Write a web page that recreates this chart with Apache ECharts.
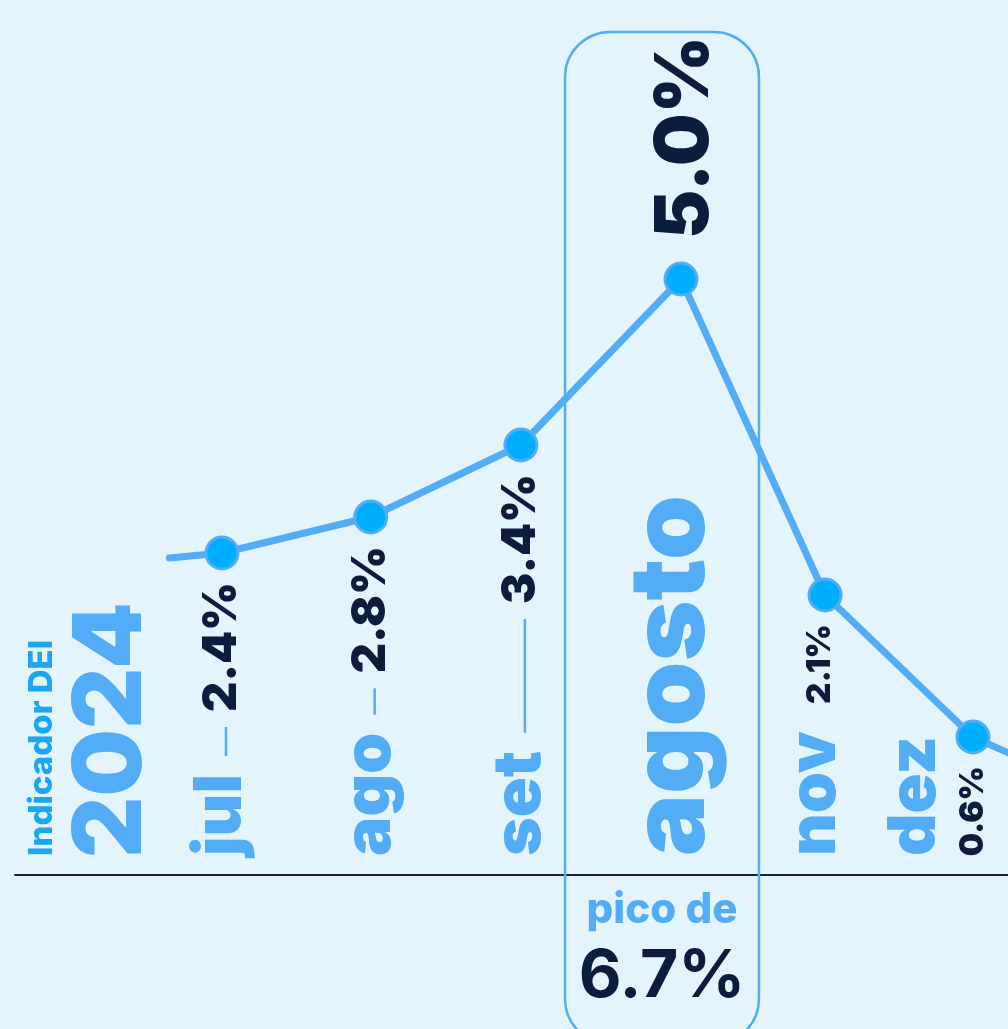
<!DOCTYPE html>
<html>
<head>
<meta charset="utf-8">
<script src="https://cdn.jsdelivr.net/npm/echarts@6/dist/echarts.min.js"></script>
<style>
  html, body { margin: 0; padding: 0; background: #E4F4FD; }
  #chart { width: 1008px; height: 1029px; }
</style>
</head>
<body>
<div id="chart"></div>
<script>
// ---- data ----
const months = ['jul', 'ago', 'set', 'agosto', 'nov', 'dez'];
const valueLabels = ['2.4%', '2.8%', '3.4%', '5.0%', '2.1%', '0.6%'];
const xPositions = [0, 0.99, 1.99, 3.056, 4.015, 5];
const plotHeights = [3.22, 3.58, 4.30, 5.96, 2.80, 1.38];
const lineStart = [-0.35, 3.17];
const lineEnd = [5.4, 1.11];
const peakIndex = 3;
const highlightRange = [2.284, 3.575];
const peakNote = 'pico de';
const peakNoteValue = '6.7%';
const titleSmall = 'Indicador DEI';
const titleYear = '2024';

// ---- styles ----
const BLUE = '#52ACF6';
const BRIGHT = '#1AA6F0';
const NAVY = '#0B1D3D';
const POINT = '#00AEFF';
const FONT = 'Inter, "Noto Sans", sans-serif';
const HEAVY = 900;

const styleFor = function (i) {
  if (i === peakIndex) return { monthSize: 104, valueSize: 74, above: true, monthDx: -8, valueDx: 5 };
  if (i >= 4) return { monthSize: 66, valueSize: 33, above: false, monthDx: i === 5 ? -58 : -10, valueDx: i === 4 ? -5 : 0 };
  return { monthSize: 66, valueSize: 47, above: false, monthDx: -1, valueDx: 0 };
};

const measureCanvas = document.createElement('canvas').getContext('2d');
function textWidth(text, size, weight) {
  measureCanvas.font = weight + ' ' + size + 'px ' + FONT;
  return measureCanvas.measureText(text).width;
}

const chart = echarts.init(document.getElementById('chart'), null, { renderer: 'canvas' });

const lineData = [{ value: lineStart, symbol: 'none' }]
  .concat(xPositions.map((x, i) => [x, plotHeights[i]]))
  .concat([{ value: lineEnd, symbol: 'none' }]);

const labelData = months.map((m, i) => [xPositions[i], plotHeights[i], i]);

chart.setOption({
  backgroundColor: '#E4F4FD',
  animation: false,
  grid: { left: 15, right: 0, top: 75, bottom: 154 },
  xAxis: {
    type: 'value', min: -1.378, max: 5.233,
    axisLine: { show: true, onZero: false, lineStyle: { color: '#14254A', width: 2 } },
    axisTick: { show: false }, axisLabel: { show: false }, splitLine: { show: false }
  },
  yAxis: {
    type: 'value', min: 0, max: 8, show: false, splitLine: { show: false }
  },
  graphic: [
    {
      type: 'text', x: 42, y: 856, rotation: Math.PI / 2, z: 10,
      style: { text: titleSmall, fontSize: 33, fontWeight: 800, fontFamily: FONT, fill: BRIGHT, align: 'left', verticalAlign: 'middle' }
    },
    {
      type: 'text', x: 112, y: 858, rotation: Math.PI / 2, z: 10,
      style: { text: titleYear, fontSize: 95, fontWeight: HEAVY, fontFamily: FONT, fill: BLUE, align: 'left', verticalAlign: 'middle' }
    }
  ],
  series: [
    {
      type: 'custom',
      z: 1,
      clip: false,
      data: [highlightRange],
      renderItem: function (params, api) {
        const left = api.coord([api.value(0), 0]);
        const right = api.coord([api.value(1), 0]);
        const w = right[0] - left[0];
        const cx = (left[0] + right[0]) / 2;
        const base = left[1];
        return {
          type: 'group',
          children: [
            {
              type: 'rect',
              shape: { x: left[0], y: 32, width: w, height: api.getHeight() + 15 - 32, r: 45 },
              style: { fill: 'none', stroke: BLUE, lineWidth: 2.5 }
            },
            {
              type: 'text', x: cx, y: base + 35,
              style: { text: peakNote, fontSize: 42, fontWeight: 800, fontFamily: FONT, fill: BLUE, align: 'center', verticalAlign: 'middle' }
            },
            {
              type: 'text', x: cx, y: base + 102,
              style: { text: peakNoteValue, fontSize: 66, fontWeight: 700, fontFamily: FONT, fill: NAVY, align: 'center', verticalAlign: 'middle' }
            }
          ]
        };
      }
    },
    {
      type: 'line',
      z: 3,
      clip: false,
      data: lineData,
      symbol: 'circle',
      symbolSize: 32,
      lineStyle: { color: BLUE, width: 7, cap: 'round', join: 'round' },
      itemStyle: { color: POINT, borderColor: BLUE, borderWidth: 3 }
    },
    {
      type: 'custom',
      z: 5,
      clip: false,
      data: labelData,
      renderItem: function (params, api) {
        const i = api.value(2);
        const s = styleFor(i);
        const pt = api.coord([api.value(0), api.value(1)]);
        const base = api.coord([api.value(0), 0]);
        const monthStart = base[1] - 19;
        const children = [];
        children.push({
          type: 'text', x: pt[0] + s.monthDx, y: monthStart, rotation: Math.PI / 2,
          style: { text: months[i], fontSize: s.monthSize, fontWeight: HEAVY, fontFamily: FONT, fill: BLUE, align: 'left', verticalAlign: 'middle' }
        });
        if (s.above) {
          children.push({
            type: 'text', x: pt[0] + s.valueDx, y: pt[1] - 40, rotation: Math.PI / 2,
            style: { text: valueLabels[i], fontSize: s.valueSize, fontWeight: HEAVY, fontFamily: FONT, fill: NAVY, align: 'left', verticalAlign: 'middle' }
          });
        } else {
          const vTop = pt[1] + 29;
          children.push({
            type: 'text', x: pt[0] + s.valueDx, y: vTop, rotation: Math.PI / 2,
            style: { text: valueLabels[i], fontSize: s.valueSize, fontWeight: HEAVY, fontFamily: FONT, fill: NAVY, align: 'right', verticalAlign: 'middle' }
          });
          const vBottom = vTop + textWidth(valueLabels[i], s.valueSize, HEAVY);
          const mTop = monthStart - textWidth(months[i], s.monthSize, HEAVY);
          const d0 = vBottom + 15;
          const d1 = mTop - 18;
          if (d1 - d0 > 8 && i < 4) {
            children.push({
              type: 'line', shape: { x1: pt[0] + 4, y1: d0, x2: pt[0] + 4, y2: d1 },
              style: { stroke: BLUE, lineWidth: 2.5 }
            });
          }
        }
        return { type: 'group', children: children };
      }
    }
  ]
});
</script>
</body>
</html>
